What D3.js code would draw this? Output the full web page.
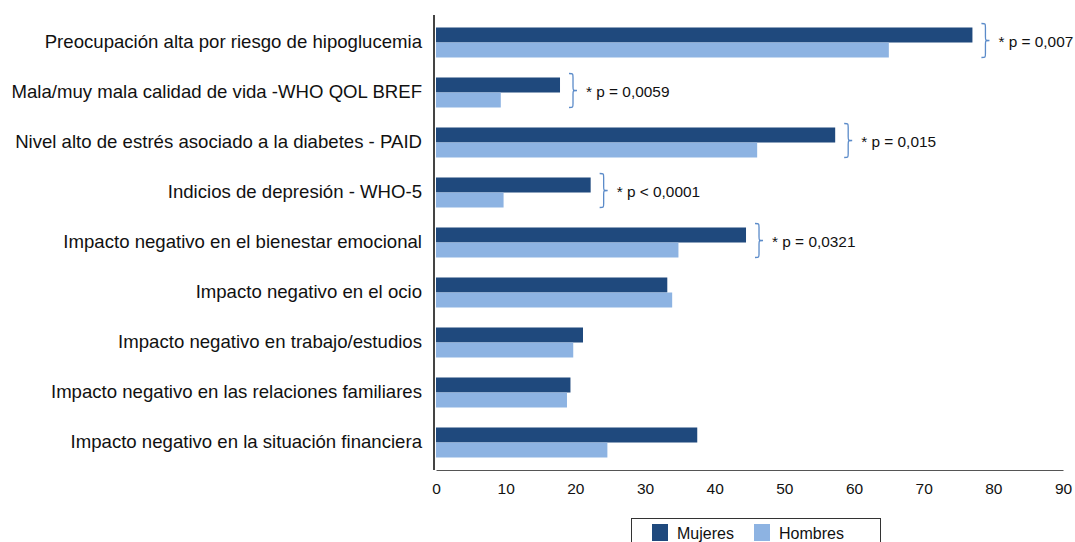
<!DOCTYPE html>
<html>
<head>
<meta charset="utf-8">
<script src="https://cdn.jsdelivr.net/npm/d3@7"></script>
<style>
  body { margin: 0; background: #fff; }
  svg { font-family: "Liberation Sans", Arial, Helvetica, sans-serif; }
</style>
</head>
<body>
<div id="chart"></div>
<script>
// data (porcentaje)
var categories = [
  "Preocupación alta por riesgo de hipoglucemia",
  "Mala/muy mala calidad de vida -WHO QOL BREF",
  "Nivel alto de estrés asociado a la diabetes - PAID",
  "Indicios de depresión - WHO-5",
  "Impacto negativo en el bienestar emocional",
  "Impacto negativo en el ocio",
  "Impacto negativo en trabajo/estudios",
  "Impacto negativo en las relaciones familiares",
  "Impacto negativo en la situación financiera"
];
var series = ["Mujeres", "Hombres"];
var mujeres = [77.0, 17.8, 57.3, 22.2, 44.5, 33.2, 21.1, 19.3, 37.5];
var hombres = [65.0, 9.3, 46.1, 9.7, 34.8, 33.9, 19.7, 18.8, 24.6];
var pLabels = ["* p = 0,007", "* p = 0,0059", "* p = 0,015", "* p < 0,0001", "* p = 0,0321", null, null, null, null];
var xTicks = [0, 10, 20, 30, 40, 50, 60, 70, 80, 90];

var colors = {Mujeres: "#1f497d", Hombres: "#8db3e2"};

var W = 1075, H = 542;
var svg = d3.select("#chart").append("svg").attr("width", W).attr("height", H);

var x = d3.scaleLinear().domain([0, 90]).range([436, 1063]);
var y = d3.scaleBand().domain(categories).range([15, 470]).paddingInner(0.4).paddingOuter(0.25);
var ys = d3.scaleBand().domain(series).range([0, y.bandwidth()]);

var rows = categories.map(function(c, i) {
    return {cat: c, Mujeres: mujeres[i], Hombres: hombres[i], p: pLabels[i]};
});

// bars
var g = svg.append("g");
rows.forEach(function(r) {
    series.forEach(function(s) {
	g.append("rect")
	    .attr("x", x(0))
	    .attr("y", y(r.cat) + ys(s))
	    .attr("width", x(r[s]) - x(0))
	    .attr("height", ys.bandwidth())
	    .attr("fill", colors[s]);
    });
});

// x axis
var xa = svg.append("g").attr("transform", "translate(0,470)")
    .call(d3.axisBottom(x).tickValues(xTicks).tickSize(0).tickPadding(13).tickSizeOuter(0));
xa.select(".domain").attr("stroke", "#555").attr("stroke-width", 1);
xa.selectAll("text").attr("font-size", 15.5).attr("fill", "#111")
    .style("font-family", "'Liberation Sans', Arial, sans-serif");

// y axis
var ya = svg.append("g").attr("transform", "translate(434,0)")
    .call(d3.axisLeft(y).tickSize(0).tickPadding(12).tickSizeOuter(0));
ya.select(".domain").attr("d", "M0,15V470").attr("stroke", "#444").attr("stroke-width", 2);
ya.selectAll("text").attr("font-size", 18.6).attr("fill", "#111")
    .style("font-family", "'Liberation Sans', Arial, sans-serif");

// braces with p values
function brace(x0, y0, y1, w) {
    var ym = (y0 + y1) / 2, xm = x0 + w / 2, q = 4;
    return "M" + x0 + "," + y0 +
	"C" + xm + "," + y0 + " " + xm + "," + y0 + " " + xm + "," + (y0 + q) +
	"L" + xm + "," + (ym - q) +
	"C" + xm + "," + ym + " " + xm + "," + ym + " " + (x0 + w) + "," + ym +
	"C" + xm + "," + ym + " " + xm + "," + ym + " " + xm + "," + (ym + q) +
	"L" + xm + "," + (y1 - q) +
	"C" + xm + "," + y1 + " " + xm + "," + y1 + " " + x0 + "," + y1;
}
rows.filter(function(r) { return r.p; }).forEach(function(r) {
    var bx = x(r.Mujeres) + 9;
    var cy = y(r.cat) + y.bandwidth() / 2 - 2;
    svg.append("path")
	.attr("d", brace(bx, cy - 17, cy + 17, 8))
	.attr("fill", "none").attr("stroke", "#5b8bc9").attr("stroke-width", 1.3);
    svg.append("text")
	.attr("x", bx + 17).attr("y", cy + 1)
	.attr("dy", "0.35em")
	.attr("font-size", 15.4).attr("fill", "#111")
	.text(r.p);
});

// legend
var lg = svg.append("g");
lg.append("rect").attr("x", 631.5).attr("y", 518.5).attr("width", 249).attr("height", 40)
    .attr("fill", "#fff").attr("stroke", "#333").attr("stroke-width", 1);
var lx = [652, 754];
series.forEach(function(s, i) {
    lg.append("rect").attr("x", lx[i]).attr("y", 524).attr("width", 16).attr("height", 17).attr("fill", colors[s]);
    lg.append("text").attr("x", lx[i] + 25).attr("y", 533).attr("dy", "0.35em")
	.attr("font-size", 16).attr("fill", "#111").text(s);
});
</script>
</body>
</html>
